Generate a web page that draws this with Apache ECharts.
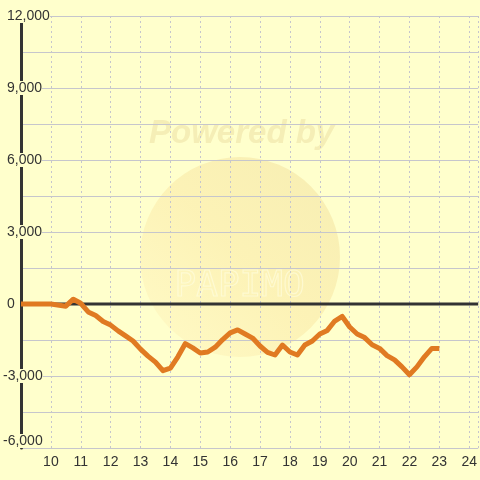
<!DOCTYPE html>
<html>
<head>
<meta charset="utf-8">
<style>
html,body{margin:0;padding:0;background:#ffffcc;}
#c{width:480px;height:480px;}
</style>
<script src="https://cdn.jsdelivr.net/npm/echarts@6/dist/echarts.min.js"></script>
</head>
<body>
<div id="c"></div>
<script>
var xValues = [9, 10, 10.5, 10.75, 11, 11.25, 11.5, 11.75, 12, 12.25, 12.5, 12.75, 13, 13.25, 13.5, 13.75, 14, 14.25, 14.5, 14.75, 15, 15.25, 15.5, 15.75, 16, 16.25, 16.5, 16.75, 17, 17.25, 17.5, 17.75, 18, 18.25, 18.5, 18.75, 19, 19.25, 19.5, 19.75, 20, 20.25, 20.5, 20.75, 21, 21.25, 21.5, 21.75, 22, 22.25, 22.5, 22.75, 23];
var yValues = [0, 0, -90, 200, 30, -330, -480, -730, -880, -1120, -1330, -1540, -1880, -2170, -2420, -2780, -2670, -2200, -1650, -1830, -2040, -2000, -1800, -1480, -1200, -1080, -1250, -1420, -1750, -2020, -2125, -1710, -2000, -2125, -1710, -1540, -1250, -1100, -710, -520, -960, -1250, -1400, -1700, -1850, -2150, -2330, -2620, -2950, -2620, -2200, -1850, -1850];
var xTickLabels = [10, 11, 12, 13, 14, 15, 16, 17, 18, 19, 20, 21, 22, 23, 24];
var yTickLabels = [-6000, -3000, 0, 3000, 6000, 9000, 12000];
var zeroLineX = [9, 24.3];
var zeroLineY = [0, 0];

var seriesData = xValues.map(function (x, i) { return [x, yValues[i]]; });
var zeroData = zeroLineX.map(function (x, i) { return [x, zeroLineY[i]]; });

var chart = echarts.init(document.getElementById('c'));
chart.setOption({
  backgroundColor: '#ffffcc',
  animation: false,
  grid: { left: 21, right: 0, top: 16, bottom: 32 },
  graphic: [
    {
      type: 'circle', z: 0, silent: true,
      shape: { cx: 240, cy: 257, r: 100 },
      style: {
        fill: new echarts.graphic.LinearGradient(1, 0, 0, 1, [
          { offset: 0, color: '#f6ecb0' },
          { offset: 0.5, color: '#fcf1b4' },
          { offset: 1, color: '#fffac6' }
        ]),
        opacity: 0.9
      }
    },
    {
      type: 'text', z: 0, silent: true,
      left: 149, top: 117,
      style: {
        text: 'Powered by',
        font: 'bold italic 33px "Liberation Sans", Arial, sans-serif',
        fill: '#f5eeb6'
      }
    },
    {
      type: 'text', z: 0, silent: true,
      left: 174, top: 268,
      style: {
        text: 'PAPIMO',
        font: '36px "DejaVu Sans Mono", monospace',
        fill: 'rgba(255,255,255,0)',
        stroke: 'rgba(255,255,230,0.55)',
        lineWidth: 1.2
      }
    }
  ],
  xAxis: {
    type: 'value',
    min: 9,
    max: 24.3,
    interval: 1,
    axisLine: { show: false },
    axisTick: { show: false },
    axisLabel: {
      margin: 7,
      fontSize: 14,
      color: '#333',
      fontFamily: '"Liberation Sans", Arial, sans-serif',
      showMinLabel: false,
      showMaxLabel: false,
      formatter: function (v) {
        return xTickLabels.indexOf(v) >= 0 ? String(v) : '';
      }
    },
    splitLine: { show: true, lineStyle: { color: '#c6c6cc', width: 1, type: [2, 3] } }
  },
  yAxis: {
    type: 'value',
    min: -6000,
    max: 12000,
    interval: 1500,
    axisLine: { show: true, lineStyle: { color: '#333', width: 3 } },
    axisTick: { show: false },
    axisLabel: {
      margin: 18,
      align: 'left',
      fontSize: 14,
      color: '#333',
      fontFamily: '"Liberation Sans", Arial, sans-serif',
      backgroundColor: '#ffffcc',
      verticalAlignMinLabel: 'bottom',
      rich: {
        pos: { fontSize: 14, color: '#333', fontFamily: '"Liberation Sans", Arial, sans-serif', padding: [0, 0, 0, 4] },
        neg: { fontSize: 14, color: '#333', fontFamily: '"Liberation Sans", Arial, sans-serif' }
      },
      formatter: function (v) {
        if (yTickLabels.indexOf(v) < 0) return '';
        var s = v.toLocaleString('en-US');
        return v < 0 ? '{neg|' + s + '}' : '{pos|' + s + '}';
      }
    },
    splitLine: { show: true, lineStyle: { color: '#c6c6cc', width: 1 } }
  },
  series: [
    {
      type: 'line',
      data: zeroData,
      symbol: 'none',
      silent: true,
      z: 1,
      lineStyle: { color: '#333', width: 3 }
    },
    {
      type: 'line',
      data: seriesData,
      symbol: 'none',
      z: 3,
      lineStyle: { color: '#e07a22', width: 5, join: 'round' }
    }
  ]
});
</script>
</body>
</html>
